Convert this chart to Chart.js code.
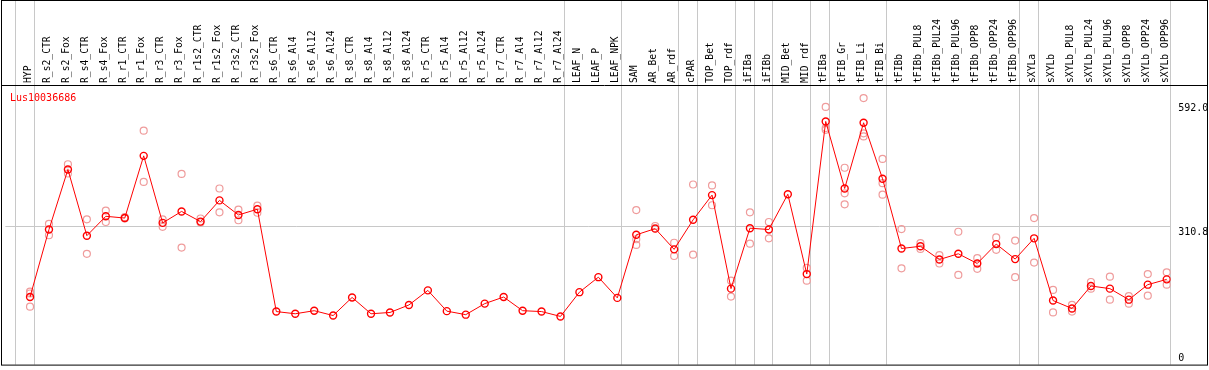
<!DOCTYPE html>
<html>
<head>
<meta charset="utf-8">
<script src="https://cdn.jsdelivr.net/npm/chart.js@4.4.1/dist/chart.umd.min.js"></script>
<style>
  html, body { margin: 0; padding: 0; background: #fff; }
  canvas { display: block; }
</style>
</head>
<body>
<canvas id="geneChart" width="1209" height="370"></canvas>
<script>
const geneId = "Lus10036686";

const categories = [
  "HYP", "R_s2_CTR", "R_s2_Fox", "R_s4_CTR", "R_s4_Fox", "R_r1_CTR", "R_r1_Fox",
  "R_r3_CTR", "R_r3_Fox", "R_r1s2_CTR", "R_r1s2_Fox", "R_r3s2_CTR", "R_r3s2_Fox",
  "R_s6_CTR", "R_s6_Al4", "R_s6_Al12", "R_s6_Al24", "R_s8_CTR", "R_s8_Al4", "R_s8_Al12",
  "R_s8_Al24", "R_r5_CTR", "R_r5_Al4", "R_r5_Al12", "R_r5_Al24", "R_r7_CTR", "R_r7_Al4",
  "R_r7_Al12", "R_r7_Al24", "LEAF_N", "LEAF_P", "LEAF_NPK", "SAM", "AR_Bet", "AR_rdf",
  "cPAR", "TOP_Bet", "TOP_rdf", "iFIBa", "iFIBb", "MID_Bet", "MID_rdf", "tFIBa",
  "tFIB_Gr", "tFIB_Li", "tFIB_Bi", "tFIBb", "tFIBb_PUL8", "tFIBb_PUL24", "tFIBb_PUL96",
  "tFIBb_OPP8", "tFIBb_OPP24", "tFIBb_OPP96", "sXYLa", "sXYLb", "sXYLb_PUL8",
  "sXYLb_PUL24", "sXYLb_PUL96", "sXYLb_OPP8", "sXYLb_OPP24", "sXYLb_OPP96"
];

// mean expression per sample
const means = [
  150, 303, 439, 289, 333, 329, 470, 318, 344, 321, 369, 336, 349,
  117, 112, 119, 108, 149, 112, 115, 132, 165, 118, 110, 135, 150, 119, 117, 106,
  161, 195, 148, 291, 305, 258, 325, 381, 169, 306, 303, 383, 202,
  548, 396, 545, 418, 260, 265, 235, 248, 226, 270, 236,
  283, 142, 124, 175, 169, 144, 178, 190
];

// individual replicates per sample
const replicates = [
  [162, 158, 128], [316, 290], [451, 430], [326, 248], [346, 320], [331, 328], [527, 411],
  [326, 309], [429, 262], [328, 319], [396, 342], [348, 324], [357, 341],
  [], [], [], [], [], [], [], [], [], [], [], [], [], [], [], [],
  [], [], [], [347, 281, 268], [311, 306], [273, 243], [405, 246], [403, 358], [187, 151],
  [342, 271], [320, 283], [], [216, 187],
  [581, 533, 529], [443, 385, 360], [601, 521, 514], [463, 408, 382], [304, 215],
  [272, 259], [245, 226], [298, 200], [238, 214], [285, 257], [278, 195],
  [329, 228], [166, 115], [132, 117], [184, 169], [196, 144], [152, 135], [202, 153], [206, 178]
];

// last sample index of each tissue group (-1 = before first)
const groupEnds = [-1, 0, 28, 31, 34, 35, 37, 38, 39, 41, 42, 45, 52, 53, 60];

const yTicks = [0, 310.8, 592.0];

(function () {
  const canvas = document.getElementById("geneChart");
  const MONO = '"DejaVu Sans Mono", "Liberation Mono", monospace';

  const meanPoints = means.map((v, i) => ({ x: i, y: v }));
  const repPoints = [];
  replicates.forEach((vals, i) => {
    vals.forEach(v => repPoints.push({ x: i, y: v }));
  });

  const dividersPlugin = {
    id: "dividersPlugin",
    beforeDatasetsDraw(chart) {
      const { ctx, chartArea, scales } = chart;
      ctx.save();
      ctx.strokeStyle = "#c8c8c8";
      ctx.lineWidth = 1;
      groupEnds.forEach(i => {
        const x = Math.round(scales.x.getPixelForValue(i + 0.19)) + 0.5;
        ctx.beginPath();
        ctx.moveTo(x, 0);
        ctx.lineTo(x, chartArea.bottom);
        ctx.stroke();
      });
      ctx.restore();
    },
    afterDraw(chart) {
      const { ctx, chartArea, scales } = chart;
      ctx.save();

      // outer frame and header separator
      ctx.strokeStyle = "#000";
      ctx.lineWidth = 1;
      ctx.strokeRect(1.5, 0.5, 1206, chartArea.bottom);
      ctx.beginPath();
      ctx.moveTo(1.5, chartArea.top + 0.5);
      ctx.lineTo(1207.5, chartArea.top + 0.5);
      ctx.stroke();

      // gene id
      ctx.font = "10px " + MONO;
      ctx.textBaseline = "top";
      ctx.textAlign = "left";
      ctx.fillStyle = "#ff0000";
      ctx.fillText(geneId, 10, chartArea.top + 8);

      // y tick labels
      ctx.fillStyle = "#000";
      yTicks.forEach(v => {
        const y = Math.min(scales.y.getPixelForValue(v) + 1, chartArea.bottom - 11);
        ctx.fillText(v === 0 ? "0" : v.toFixed(1), chartArea.right + 7.5, y);
      });

      ctx.restore();
    }
  };

  new Chart(canvas, {
    type: "line",
    data: {
      datasets: [
        {
          label: "mean",
          data: meanPoints,
          borderColor: "#ff0000",
          borderWidth: 1,
          pointRadius: 3.5,
          pointBorderWidth: 1.4,
          pointBorderColor: "#ff0000",
          pointBackgroundColor: "rgba(0,0,0,0)",
          tension: 0,
          order: 1
        },
        {
          type: "scatter",
          label: "replicates",
          data: repPoints,
          showLine: false,
          pointRadius: 3.5,
          pointBorderWidth: 1.2,
          pointBorderColor: "#ef9c9c",
          pointBackgroundColor: "rgba(0,0,0,0)",
          order: 2
        }
      ]
    },
    options: {
      responsive: false,
      animation: false,
      layout: {
        padding: { top: 0, left: 2, right: 2, bottom: 1 }
      },
      plugins: {
        legend: { display: false },
        tooltip: { enabled: false }
      },
      scales: {
        x: {
          type: "linear",
          position: "top",
          min: -1.3,
          max: 60.21,
          afterBuildTicks(scale) {
            scale.ticks = categories.map((c, i) => ({ value: i }));
          },
          afterFit(scale) {
            scale.height = 85;
            scale.paddingLeft = 0;
            scale.paddingRight = 0;
          },
          grid: { display: false, drawTicks: false },
          border: { display: false },
          ticks: {
            autoSkip: false,
            minRotation: 90,
            maxRotation: 90,
            padding: 2,
            labelOffset: 9.9,
            color: "#000",
            font: { family: MONO, size: 9.7 },
            callback: (v) => categories[v] ?? ""
          }
        },
        y: {
          position: "right",
          min: -3.2,
          max: 630.6,
          afterBuildTicks(scale) {
            scale.ticks = yTicks.map(v => ({ value: v }));
          },
          afterFit(scale) {
            scale.width = 36.3;
          },
          grid: {
            drawTicks: false,
            color: (ctx) => (ctx.tick && ctx.tick.value === 310.8 ? "#c8c8c8" : "rgba(0,0,0,0)")
          },
          border: { display: false },
          ticks: { display: false }
        }
      }
    },
    plugins: [dividersPlugin]
  });
})();
</script>
</body>
</html>
